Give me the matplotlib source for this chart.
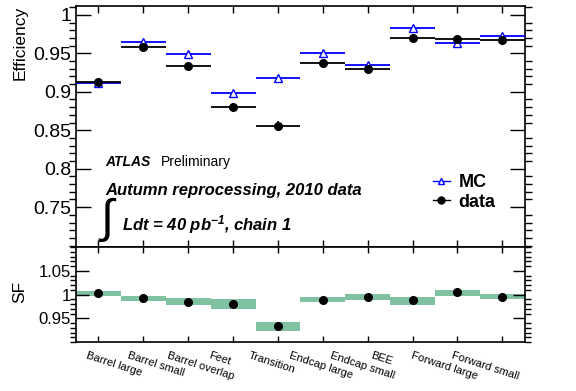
import numpy as np
import matplotlib.pyplot as plt
from matplotlib.ticker import MultipleLocator, FuncFormatter
from matplotlib.lines import Line2D

plt.rcParams['font.family'] = ['Liberation Sans', 'DejaVu Sans']
plt.rcParams['mathtext.fontset'] = 'custom'
plt.rcParams['mathtext.rm'] = 'Liberation Sans:bold:italic'
plt.rcParams['mathtext.it'] = 'Liberation Sans:bold:italic'

regions = ['Barrel large', 'Barrel small', 'Barrel overlap', 'Feet', 'Transition',
           'Endcap large', 'Endcap small', 'BEE', 'Forward large', 'Forward small']

eff_mc = [0.911, 0.965, 0.949, 0.899, 0.918, 0.950, 0.935, 0.983, 0.964, 0.972]
eff_data = [0.913, 0.958, 0.934, 0.880, 0.856, 0.938, 0.930, 0.970, 0.968, 0.967]
eff_data_err = [0.002, 0.002, 0.002, 0.006, 0.006, 0.002, 0.002, 0.003, 0.002, 0.002]

sf = [1.0035, 0.992, 0.985, 0.981, 0.934, 0.989, 0.9945, 0.988, 1.0048, 0.9945]
sf_lo = [0.998, 0.987, 0.979, 0.969, 0.924, 0.984, 0.988, 0.979, 0.998, 0.990]
sf_hi = [1.008, 0.998, 0.992, 0.990, 0.943, 0.996, 1.0006, 0.995, 1.010, 1.0014]

x = np.arange(len(regions)) + 0.5
fmt = FuncFormatter(lambda v, p: '%g' % round(v, 3))

fig = plt.figure(figsize=(5.76, 3.91), dpi=100)
ax = fig.add_axes([0.132, 0.368, 0.779, 0.617])
ax2 = fig.add_axes([0.132, 0.125, 0.779, 0.243])

# efficiency panel
ax.errorbar(x, eff_mc, xerr=0.5, fmt='^', color='blue', mfc='white', mec='blue',
            ms=6, lw=1.3, zorder=3)
ax.errorbar(x, eff_data, xerr=0.5, yerr=eff_data_err, fmt='o', color='black',
            ms=5.5, lw=1.3, zorder=4)
ax.set_xlim(0, 10)
ax.set_ylim(0.698, 1.0117)
ax.set_yticks([0.75, 0.8, 0.85, 0.9, 0.95, 1.0])
ax.yaxis.set_minor_locator(MultipleLocator(0.01))
ax.yaxis.set_major_formatter(fmt)
ax.set_xticks(x)
ax.set_xticklabels([])
ax.tick_params(direction='in', top=True, right=True, labelsize=14)
ax.tick_params(axis='y', which='major', length=11, width=1)
ax.tick_params(axis='y', which='minor', length=5, width=1, right=True)
ax.tick_params(axis='x', which='major', length=5, width=1)
ax.set_ylabel('Efficiency', fontsize=12.5, loc='top')
ax.yaxis.set_label_coords(-0.108, 1.0)

ax.text(0.065, 0.335, 'ATLAS', transform=ax.transAxes, fontsize=10,
        fontweight='bold', fontstyle='italic')
ax.text(0.19, 0.335, 'Preliminary', transform=ax.transAxes, fontsize=10)
ax.text(0.065, 0.215, 'Autumn reprocessing, 2010 data', transform=ax.transAxes,
        fontsize=12, fontweight='bold', fontstyle='italic')
ax.text(0.069, 0.114, '\u222b', transform=ax.transAxes, fontsize=34,
        ha='center', va='center')
ax.text(0.102, 0.07, 'Ldt = 40 pb$^{-1}$, chain 1', transform=ax.transAxes,
        fontsize=12, fontweight='bold', fontstyle='italic')

handles = [Line2D([], [], marker='^', color='blue', mfc='white', mec='blue', ms=5, lw=1),
           Line2D([], [], marker='o', color='black', ms=5, lw=1)]
ax.legend(handles, ['MC', 'data'], loc='upper left', bbox_to_anchor=(0.76, 0.37),
          frameon=False, handlelength=0.9, handletextpad=0.5, labelspacing=0.15,
          prop={'size': 13, 'weight': 'bold'})

# scale factor panel
ax2.bar(x, np.array(sf_hi) - np.array(sf_lo), bottom=sf_lo, width=1.0,
        color='#80c1a1', lw=0)
ax2.plot(x, sf, 'o', color='black', ms=5.5)
ax2.set_xlim(0, 10)
ax2.set_ylim(0.9, 1.1)
ax2.set_yticks([0.95, 1.0, 1.05])
ax2.yaxis.set_minor_locator(MultipleLocator(0.01))
ax2.yaxis.set_major_formatter(fmt)
ax2.set_xticks(x)
ax2.set_xticklabels([])
ax2.tick_params(direction='in', top=True, right=True, labelsize=12)
ax2.tick_params(axis='y', which='major', length=9, width=1)
ax2.tick_params(axis='y', which='minor', length=4, width=1, right=True)
ax2.tick_params(axis='x', which='major', length=4, width=1)
ax2.set_ylabel('SF', fontsize=12.5, ha='right')
ax2.yaxis.set_label_coords(-0.108, 0.64)

# region names, left-aligned and slanted under the panel
for i, name in enumerate(regions):
    ax2.text(0.277 + 0.904 * i, -0.09, name, transform=ax2.get_xaxis_transform(),
             fontsize=8, rotation=-18, rotation_mode='anchor', ha='left', va='top')

for a in (ax, ax2):
    for s in a.spines.values():
        s.set_linewidth(1.2)

fig.savefig('out.png', dpi=100)
